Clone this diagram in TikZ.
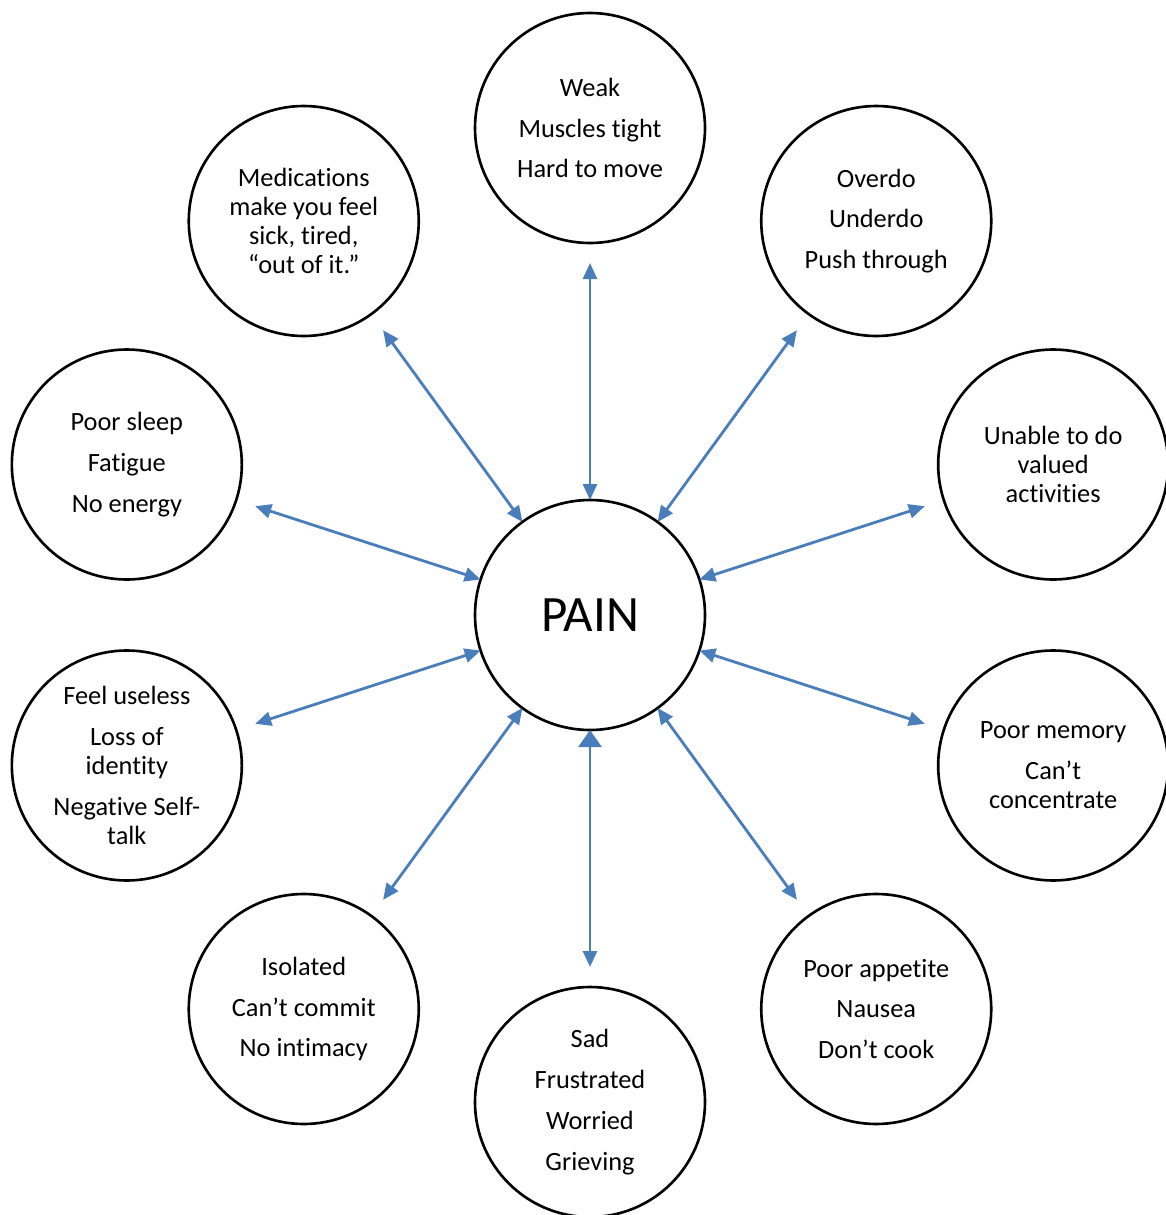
\documentclass[tikz,border=0pt]{standalone}
\usepackage{fontspec}
\setmainfont{Carlito}[Ligatures=NoCommon]
\usetikzlibrary{arrows.meta}
\definecolor{linkblue}{RGB}{74,126,187}

\begin{document}
\begin{tikzpicture}[
    bubble/.style={circle, draw, line width=1.5pt, minimum size=4.6cm, inner sep=0pt, outer sep=0pt,
      align=center, font=\fontsize{15}{16.5}\selectfont},
    link/.style={linkblue, line width=1.6pt,
      {Triangle[length=0.32cm,width=0.28cm]}-{Triangle[length=0.32cm,width=0.28cm]}, shorten >=0.4cm}]
  \useasboundingbox (0,0) rectangle (23.32,-24.3);
  \node[bubble, font=\fontsize{29}{31}\selectfont] (pain) at (11.8,-12.3) {PAIN};
  % the ring round the centre
  \foreach \ang/\name/\txt in {
      90/weak/{Weak\\[6.7pt]Muscles tight\\[6.7pt]Hard to move},
      54/overdo/{Overdo\\[6.7pt]Underdo\\[6.7pt]Push through},
      18/unable/{Unable to do\\valued\\activities},
      -18/memory/{Poor memory\\[6.7pt]Can’t\\concentrate},
      -54/appetite/{Poor appetite\\[6.7pt]Nausea\\[6.7pt]Don’t cook},
      -126/isolated/{Isolated\\[6.7pt]Can’t commit\\[6.7pt]No intimacy},
      -162/useless/{Feel useless\\[6.7pt]Loss of\\identity\\[6.7pt]Negative Self-\\talk},
      162/sleep/{Poor sleep\\[6.7pt]Fatigue\\[6.7pt]No energy},
      126/meds/{Medications\\make you feel\\sick, tired,\\“out of it.”}}{
    \node[bubble] (\name) at ([shift={(\ang:9.74)}]pain) {\txt};
    \draw[link] (pain) -- (\name);
  }
  \node[bubble] (sad) at ([shift={(-90:9.74)}]pain) {Sad\\[6.7pt]Frustrated\\[6.7pt]Worried\\[6.7pt]Grieving};
  \draw[link, {Triangle[length=0.34cm,width=0.46cm]}-{Triangle[length=0.32cm,width=0.28cm]}] (pain) -- (sad);
\end{tikzpicture}
\end{document}
